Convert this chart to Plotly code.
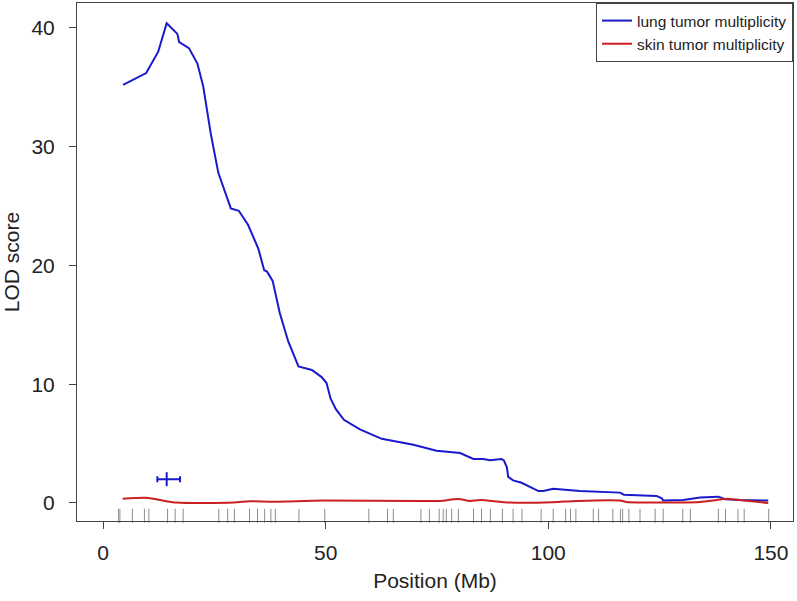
import plotly.graph_objects as go

# ---- data ----
lung_x = [4.5, 9.7, 12.4, 14.3, 16.7, 17.1, 19.3, 21.2, 22.5, 24.2, 25.9, 28.7, 30.5, 32.6,
          34.9, 36.2, 36.8, 38.1, 39.7, 41.6, 43.9, 46.9, 49.1, 50.2, 51.1, 52.3, 54.1, 57.7,
          62.6, 69.7, 74.9, 80.2, 83.2, 85.4, 86.9, 89.5, 90.0, 90.7, 91.0, 92.1, 94.0, 97.8,
          98.9, 101.1, 107.1, 116.1, 117.0, 124.3, 125.5, 125.8, 130.3, 134.1, 138.2, 139.7,
          143.1, 149.4]
lung_y = [35.2, 36.2, 38.0, 40.4, 39.5, 38.8, 38.3, 37.0, 35.1, 31.1, 27.8, 24.8, 24.6, 23.4,
          21.4, 19.6, 19.5, 18.7, 16.0, 13.6, 11.5, 11.2, 10.6, 10.1, 8.8, 7.9, 7.0, 6.2,
          5.4, 4.9, 4.4, 4.2, 3.7, 3.7, 3.6, 3.7, 3.6, 3.0, 2.2, 1.9, 1.7, 1.0,
          1.0, 1.2, 1.0, 0.87, 0.7, 0.59, 0.39, 0.2, 0.25, 0.45, 0.53, 0.31,
          0.25, 0.2]

skin_x = [4.4, 10.2, 12.8, 16.5, 29.3, 33.0, 38.2, 49.5, 71.2, 75.7, 79.8, 82.4, 84.7, 91.4,
          101.0, 106.4, 116.1, 117.6, 125.0, 134.0, 137.8, 140.1, 143.8, 149.4]
skin_y = [0.36, 0.42, 0.25, 0.03, 0.03, 0.15, 0.11, 0.2, 0.17, 0.17, 0.34, 0.17, 0.25, 0.03,
          0.06, 0.17, 0.2, 0.08, 0.03, 0.08, 0.25, 0.36, 0.2, 0.0]

marker_pos = [3.5, 3.8, 6.6, 9.3, 10.3, 14.5, 16.2, 18.0, 26.0, 28.0, 29.5, 32.9, 34.7, 36.3,
              37.7, 38.7, 44.0, 49.8, 59.7, 63.9, 65.2, 71.4, 73.3, 75.5, 76.4, 77.1, 78.3,
              79.8, 83.2, 85.0, 87.0, 89.7, 92.1, 94.1, 98.4, 101.1, 103.9, 105.0, 106.2,
              110.1, 111.3, 114.5, 116.2, 116.7, 118.1, 120.6, 124.0, 125.8, 130.2, 131.9,
              138.2, 139.8, 142.6, 144.0, 149.5]

ci_peak = 14.3
ci_low = 12.2
ci_high = 17.3
ci_level = 2.0

x_ticks = [0, 50, 100, 150]
y_ticks = [0, 10, 20, 30, 40]

BLUE = "#1a1acc"
RED = "#cc1f1f"
FONT = "Liberation Sans, Arial, sans-serif"
TXT = 21

fig = go.Figure()

fig.add_trace(go.Scatter(x=lung_x, y=lung_y, mode="lines", name="lung tumor multiplicity",
                         line=dict(color=BLUE, width=2)))
fig.add_trace(go.Scatter(x=skin_x, y=skin_y, mode="lines", name="skin tumor multiplicity",
                         line=dict(color=RED, width=2, shape="spline", smoothing=0.8)))

# rug of marker positions
fig.add_trace(go.Scatter(x=marker_pos, y=[-1.08] * len(marker_pos), mode="markers",
                         showlegend=False, hoverinfo="skip", cliponaxis=False,
                         marker=dict(symbol="line-ns", size=10,
                                     line=dict(width=1, color="#8c8c8c"))))

# confidence interval
fig.add_trace(go.Scatter(x=[ci_peak], y=[ci_level], mode="markers", showlegend=False,
                         hoverinfo="skip",
                         marker=dict(symbol="line-ns", size=10, line=dict(width=2, color=BLUE)),
                         error_x=dict(type="data", symmetric=False,
                                      array=[ci_high - ci_peak], arrayminus=[ci_peak - ci_low],
                                      color=BLUE, thickness=2, width=3)))

axis_common = dict(showgrid=False, zeroline=False, showline=True, linecolor="#444",
                   linewidth=1, mirror=True, ticks="outside", ticklen=7, tickwidth=1,
                   tickcolor="#444", tickfont=dict(size=TXT, color="#222", family=FONT))

fig.update_xaxes(range=[-5.84, 154.96], tickvals=x_ticks,
                 title=dict(text="Position (Mb)", font=dict(size=TXT, color="#222", family=FONT),
                            standoff=10),
                 ticklabelstandoff=6, **axis_common)
fig.update_yaxes(range=[-1.52, 42.1], tickvals=y_ticks,
                 title=dict(text="LOD score", font=dict(size=TXT, color="#222", family=FONT),
                            standoff=12),
                 ticklabelstandoff=10, **axis_common)

fig.update_layout(
    width=797, height=601,
    margin=dict(l=77, r=4, t=3, b=80),
    plot_bgcolor="white", paper_bgcolor="white",
    font=dict(family=FONT, color="#222"),
    legend=dict(x=1, y=1, xanchor="right", yanchor="top", bgcolor="white",
                bordercolor="#444", borderwidth=1, font=dict(size=15.5, family=FONT, color="#222"),
                tracegroupgap=0, itemwidth=30),
)

fig.write_html("out.html", config={"displayModeBar": False},
               post_script="document.body.style.margin='0';")
